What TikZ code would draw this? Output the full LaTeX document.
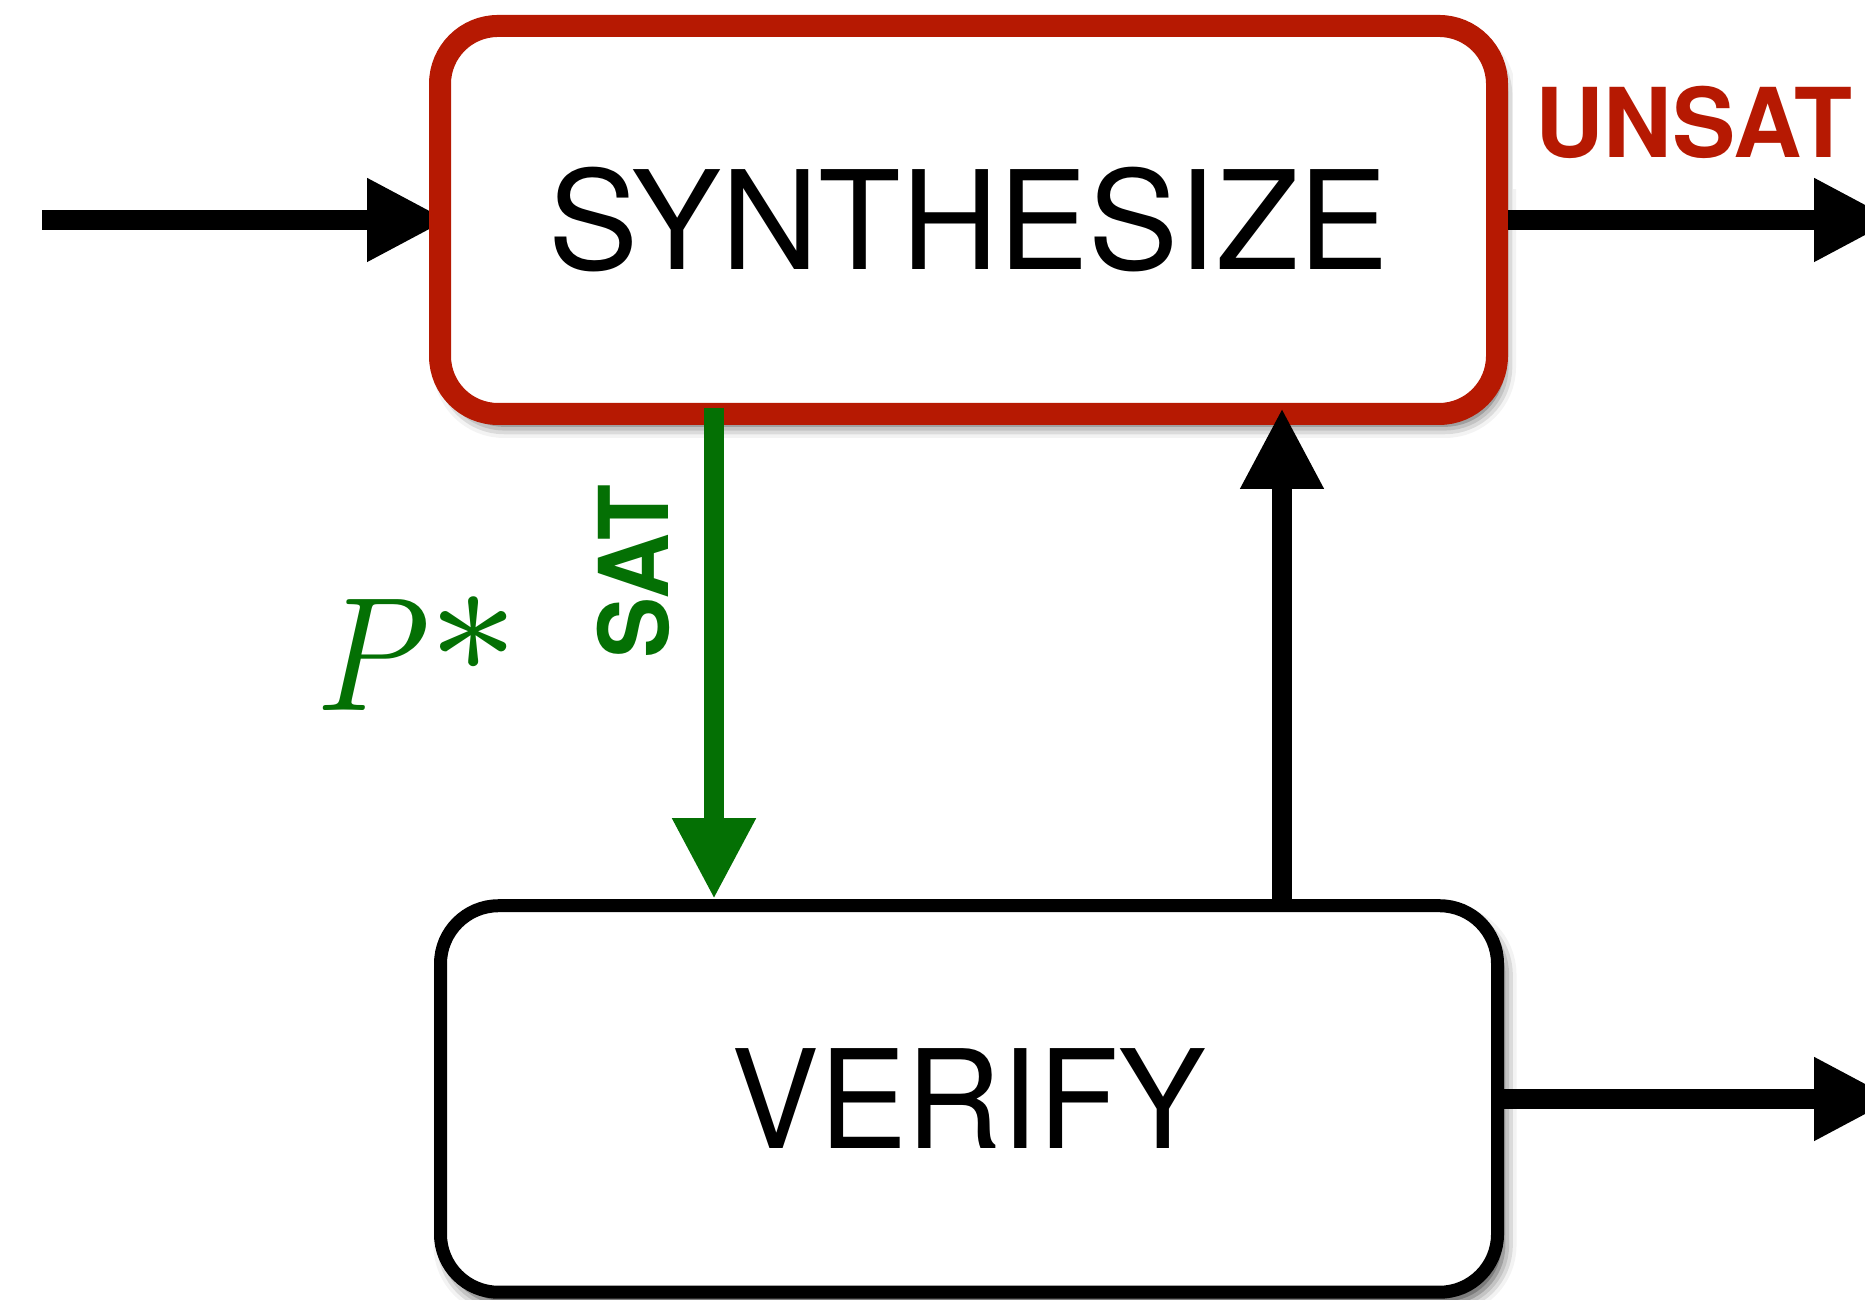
\documentclass[tikz,border=0pt]{standalone}
\usepackage{fontspec}
\usetikzlibrary{arrows.meta,shadows.blur,backgrounds}
\newfontfamily\synthfont[FakeStretch=0.985]{TeX Gyre Heros}
\newfontfamily\boxfont[FakeStretch=0.96]{TeX Gyre Heros}
\newfontfamily\unsatfont[FakeStretch=0.985]{TeX Gyre Heros}
\newfontfamily\satfont[FakeStretch=0.95]{TeX Gyre Heros}
\font\pitalic=cmmi10 at 46.2pt
\font\pstar=cmr7 at 46.2pt
\definecolor{unsatred}{RGB}{182,25,2}
\definecolor{satgreen}{RGB}{4,112,4}
\begin{document}
\begin{tikzpicture}[
  procbox/.style={rectangle, rounded corners=0.58cm, fill=white, minimum width=10.57cm,
    blur shadow={shadow xshift=0.06cm, shadow yshift=-0.11cm, shadow blur radius=0.13cm, shadow opacity=75}},
  flow/.style={line width=0.2cm, -{Triangle[length=0.81cm, width=0.78cm]}},
  outcome/.style={font={#1\bfseries\fontsize{27.4}{32}\selectfont}}]
\useasboundingbox (0,0) rectangle (18.65,13);
% the two stages
\node[procbox, draw=unsatred, line width=0.22cm, minimum height=3.88cm,
  font=\synthfont\fontsize{39}{45}\selectfont] (synth) at (9.685,10.80) {SYNTHESIZE};
\node[procbox, draw=black, line width=0.13cm, minimum height=3.865cm,
  font=\boxfont\fontsize{39}{45}\selectfont] (verify) at (9.69,2.01) {VERIFY};
\coordinate (start) at (0.42,10.80);
\coordinate (unsatend) at (18.95,10.80);
\coordinate (validend) at (18.95,2.01);
\coordinate (satx) at (7.14,0);
\coordinate (cexx) at (12.82,0);
% labels
\node[outcome=\unsatfont, text=unsatred, fill=white, inner xsep=0.22cm, inner ysep=0.3cm, anchor=base]
  (unsat) at (16.94,11.42) {UNSAT};
\node[outcome=\satfont, text=satgreen, rotate=90] (sat) at (6.33,7.285) {SAT};
\node[text=satgreen, anchor=base west, inner sep=0pt] (pstar) at (3.17,5.89)
  {\scalebox{0.89}[1]{\pitalic P}\kern0.175cm\lower0.08cm\hbox{\pstar *}};
% arrows
\begin{scope}[on background layer]
\draw[flow] (start) -- ([xshift=0.19cm]synth.west);
\end{scope}
\draw[flow] (synth.east) -- (unsatend);
\draw[flow, satgreen, shorten <=-0.17cm] (synth.south -| satx) -- (verify.north -| satx);
\draw[flow, shorten >=-0.17cm] (verify.north -| cexx) -- (synth.south -| cexx);
\draw[flow] (verify.east) -- (validend);
\end{tikzpicture}
\end{document}
